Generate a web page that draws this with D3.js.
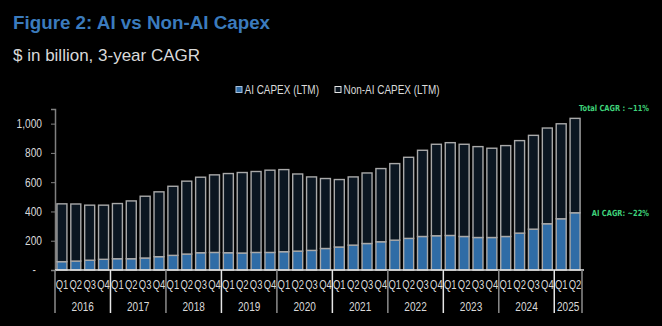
<!DOCTYPE html>
<html>
<head>
<meta charset="utf-8">
<script src="https://cdn.jsdelivr.net/npm/d3@7"></script>
<style>
  body { margin: 0; background: #000; }
  svg { display: block; }
</style>
</head>
<body>
<div id="chart"></div>
<script>
// LTM capex, $bn, quarterly from 2016 Q1 to 2025 Q2
const years = ['2016', '2017', '2018', '2019', '2020', '2021', '2022', '2023', '2024', '2025']
const quarters = ['Q1', 'Q2', 'Q3', 'Q4']
const periods = []
years.forEach(y => quarters.forEach(q => {
    if (!(y === '2025' && (q === 'Q3' || q === 'Q4'))) periods.push({ year: y, q: q })
}))

const aiCapex = [57, 61, 67, 73, 77, 77, 82, 91, 100, 109, 118, 120, 118, 116, 120, 120, 125, 129, 134, 147,
    157, 170, 181, 193, 204, 216, 229, 234, 236, 229, 222, 222, 229, 252, 279, 316, 350, 391]
const nonAiCapex = [395, 390, 376, 370, 377, 395, 422, 443, 472, 498, 516, 530, 541, 550, 553, 562, 561, 527, 502, 478,
    461, 466, 482, 500, 523, 554, 589, 625, 634, 630, 621, 610, 621, 632, 641, 654, 649, 645]
const yTicks = [0, 200, 400, 600, 800, 1000]
const seriesNames = ['AI CAPEX (LTM)', 'Non-AI CAPEX (LTM)']

const width = 662, height = 326
const margin = { left: 55, right: 80, top: 109, bottom: 56 }
const sans = 'Arial, Liberation Sans, sans-serif'
const colors = { ai: '#2f6ca6', nonAi: '#0b1621', outline: '#a9a9a9' }

// no condensed face installed, so squeeze the glyphs horizontally.
// target: a fixed width in px, or a factor of the natural width
function condense(sel, target, isWidth) {
    sel.each(function (d) {
        const t = d3.select(this)
        const len = this.getComputedTextLength()
        const w = typeof target === 'function' ? target(d) : target
        const f = isWidth ? w / len : w
        const x0 = +t.attr('x') || 0
        const prev = t.attr('transform') || ''
        t.attr('x', 0)
            .attr('transform', prev + ' translate(' + x0 + ',0) scale(' + f + ',1)')
    })
}

const rows = periods.map((p, i) => ({ key: p.year + ' ' + p.q, year: p.year, q: p.q, ai: aiCapex[i], nonAi: nonAiCapex[i] }))
const stacked = d3.stack().keys(['ai', 'nonAi'])(rows)

const svg = d3.select('#chart').append('svg')
    .attr('width', width)
    .attr('height', height)
    .style('background', '#000')

// title block
svg.append('text')
    .attr('x', 13).attr('y', 29)
    .attr('font-family', sans)
    .attr('font-weight', 'bold')
    .attr('font-size', 18.8)
    .attr('fill', '#3b7bbd')
    .text('Figure 2: AI vs Non-AI Capex')

svg.append('text')
    .attr('x', 13).attr('y', 61)
    .attr('font-family', sans)
    .attr('font-size', 17)
    .attr('fill', '#d9d9d9')
    .text('$ in billion, 3-year CAGR')

const x = d3.scaleBand()
    .domain(rows.map(d => d.key))
    .range([margin.left, width - margin.right])
    .paddingInner(0.28)
    .paddingOuter(0.14)

const y = d3.scaleLinear()
    .domain([0, 1100])
    .range([height - margin.bottom, margin.top])

const baseY = y(0)

// y axis
const yAxis = svg.append('g')
    .attr('transform', 'translate(' + margin.left + ',0)')
    .call(d3.axisLeft(y).tickValues(yTicks).tickSize(4).tickPadding(9)
        .tickFormat(d => d === 0 ? '-' : d3.format(',')(d)))
yAxis.select('.domain').attr('stroke', '#808080').attr('stroke-width', 1.5)
yAxis.selectAll('.tick line').attr('stroke', '#808080')
yAxis.selectAll('.tick text')
    .attr('fill', '#d9d9d9')
    .attr('font-family', sans)
    .attr('font-size', 12)
    .attr('x', d => d === 0 ? -19 : -13)
    .call(condense, 0.85)

// stacked bars
const colorOf = { ai: colors.ai, nonAi: colors.nonAi }
svg.append('g')
    .selectAll('g')
    .data(stacked)
    .enter().append('g')
        .attr('fill', s => colorOf[s.key])
    .selectAll('rect')
    .data(s => s)
    .enter().append('rect')
        .attr('x', d => x(d.data.key))
        .attr('y', d => y(d[1]))
        .attr('width', x.bandwidth())
        .attr('height', d => y(d[0]) - y(d[1]))
        .attr('stroke', colors.outline)
        .attr('stroke-width', 1.4)

// category axis: baseline, quarter labels, year groups
svg.append('line')
    .attr('x1', margin.left).attr('x2', width - margin.right + 2)
    .attr('y1', baseY).attr('y2', baseY)
    .attr('stroke', '#e6e6e6').attr('stroke-width', 1.5)

svg.append('g')
    .selectAll('text')
    .data(rows)
    .enter().append('text')
        .attr('x', d => x(d.key) + x.bandwidth() / 2)
        .attr('y', baseY + 19)
        .attr('text-anchor', 'middle')
        .attr('font-family', sans)
        .attr('font-size', 12)
        .attr('fill', '#d9d9d9')
        .text(d => d.q)
        .call(condense, 12.6, true)

const step = x.step()
const x0 = margin.left
const yearGroups = years.map(yr => {
    const idx = rows.filter(r => r.year === yr).map(r => rows.indexOf(r))
    return { year: yr, start: x0 + idx[0] * step, end: x0 + (idx[idx.length - 1] + 1) * step }
})

svg.append('g')
    .selectAll('line')
    .data([x0].concat(yearGroups.map(g => g.end)))
    .enter().append('line')
        .attr('x1', d => d).attr('x2', d => d)
        .attr('y1', baseY).attr('y2', baseY + 43)
        .attr('stroke', (d, i) => i % 2 ? '#e6e6e6' : '#8c8c8c')
        .attr('stroke-width', 1.5)

svg.append('g')
    .selectAll('text')
    .data(yearGroups)
    .enter().append('text')
        .attr('x', d => (d.start + d.end) / 2)
        .attr('y', baseY + 41)
        .attr('text-anchor', 'middle')
        .attr('font-family', sans)
        .attr('font-size', 12)
        .attr('fill', '#d9d9d9')
        .text(d => d.year)
        .call(condense, 0.84)

// legend
const legend = svg.append('g')
    .selectAll('g')
    .data(seriesNames)
    .enter().append('g')
        .attr('transform', (d, i) => 'translate(' + (236 + i * 99) + ',86.5)')
legend.append('rect')
    .attr('width', 6).attr('height', 6)
    .attr('fill', (d, i) => i ? colors.nonAi : colors.ai)
    .attr('stroke', (d, i) => i ? '#e6e6e6' : '#a9c2dd')
    .attr('stroke-width', 1)
legend.append('text')
    .attr('x', 8.5).attr('y', 7.5)
    .attr('font-family', sans)
    .attr('font-size', 12)
    .attr('fill', '#d9d9d9')
    .text(d => d)
    .call(condense, 0.83)

// CAGR notes
const notes = [
    { label: 'Total CAGR : ~11%', y: 111, w: 70 },
    { label: 'AI CAGR: ~22%', y: 216.5, w: 57 }
]
svg.append('g')
    .selectAll('text')
    .data(notes)
    .enter().append('text')
        .attr('x', 649)
        .attr('y', d => d.y)
        .attr('text-anchor', 'end')
        .attr('font-family', 'Verdana, DejaVu Sans, sans-serif')
        .attr('font-weight', 'bold')
        .attr('font-size', 8.4)
        .attr('fill', '#3fd27a')
        .text(d => d.label)
        .call(condense, d => d.w, true)
</script>
</body>
</html>
